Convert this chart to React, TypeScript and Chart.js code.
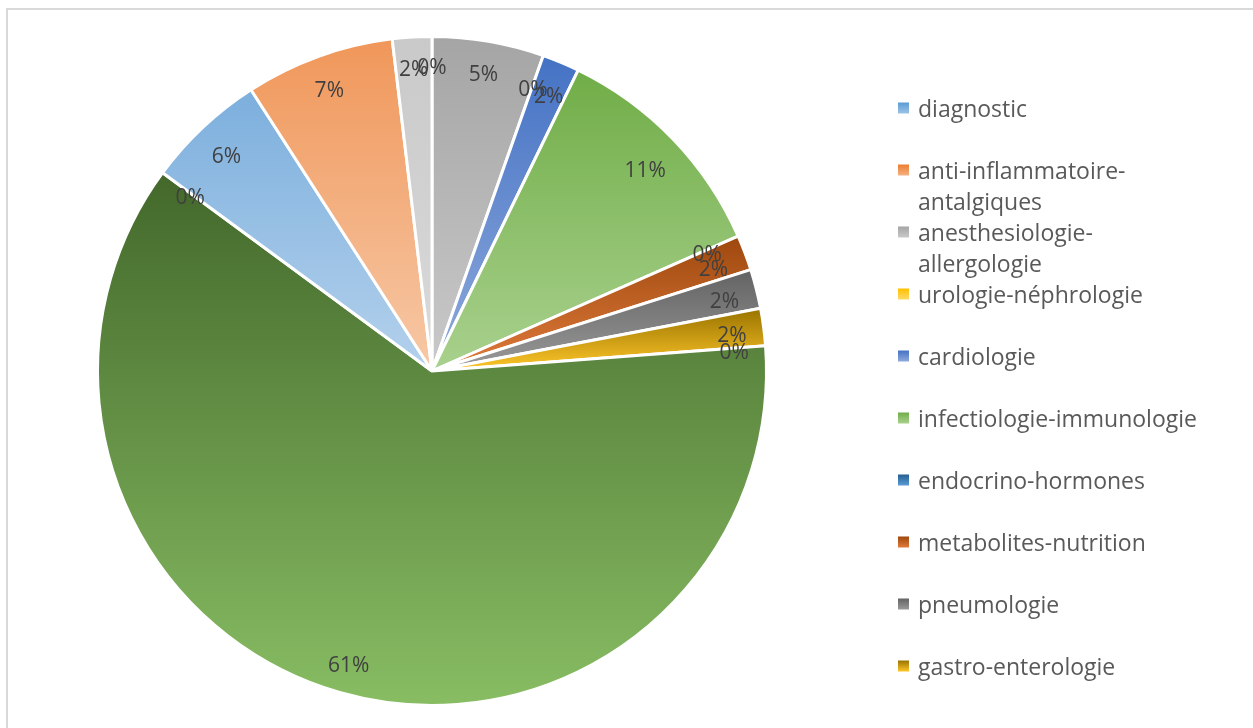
import React, { useEffect, useRef } from "react";
import { Chart, registerables } from "chart.js";

Chart.register(...registerables);

// Categories in drawing order (clockwise from 12 o'clock)
const categories = [
  "diagnostic",
  "anti-inflammatoire-antalgiques",
  "anesthesiologie-allergologie",
  "urologie-néphrologie",
  "cardiologie",
  "infectiologie-immunologie",
  "endocrino-hormones",
  "metabolites-nutrition",
  "pneumologie",
  "gastro-enterologie",
  "dermatologie",
  "neurologie-psychiatrie",
  "hématologie",
  "oncologie",
  "rhumatologie",
  "ophtalmologie",
];

// Share of each category (percent)
const values = [0, 0, 5.4, 0, 1.8, 11.2, 0, 1.7, 1.9, 1.8, 0, 61.3, 0, 5.8, 7.2, 1.9];

// Gradient colours: top -> bottom of each slice
const topColors = [
  "#5b9bd5", "#ed7d31", "#a5a5a5", "#ffc000", "#4472c4", "#70ad47", "#255e91", "#9e480e",
  "#636363", "#997300", "#264478", "#43682b", "#7cafdd", "#7cafdd", "#f0975a", "#c9c9c9",
];
const bottomColors = [
  "#9dc3e6", "#f4b183", "#c9c9c9", "#ffd966", "#8faadc", "#a9d18e", "#5b9bd5", "#e07b3c",
  "#9a9a9a", "#ffc72a", "#4472c4", "#88bd63", "#b4d1ec", "#b4d1ec", "#f7c8a6", "#dadada",
];

// Only the first entries fit in the legend box
const legendCount = 10;

const FONT = '"Open Sans", "Noto Sans", sans-serif';
const RADIUS = 334.5;

function sliceGradient(chart: any, i: number) {
  const ca = chart.chartArea;
  if (!ca) return topColors[i];
  const cx = (ca.left + ca.right) / 2;
  const cy = (ca.top + ca.bottom) / 2;
  const total = values.reduce((a, b) => a + b, 0);
  let cum = 0;
  for (let j = 0; j < i; j++) cum += values[j];
  const a0 = -Math.PI / 2 + (2 * Math.PI * cum) / total;
  const a1 = a0 + (2 * Math.PI * values[i]) / total;
  const ys = [cy, cy + RADIUS * Math.sin(a0), cy + RADIUS * Math.sin(a1)];
  if (a0 < Math.PI / 2 && a1 > Math.PI / 2) ys.push(cy + RADIUS);
  if (a1 >= (3 * Math.PI) / 2 - 1e-9 || a0 <= -Math.PI / 2 + 1e-9) ys.push(cy - RADIUS);
  const yTop = Math.min(...ys);
  let yBot = Math.max(...ys);
  if (yBot - yTop < 1) yBot = yTop + 1;
  const g = chart.ctx.createLinearGradient(0, yTop, 0, yBot);
  g.addColorStop(0, topColors[i]);
  g.addColorStop(1, bottomColors[i]);
  return g;
}

const labelPlugin = {
  id: "sliceLabels",
  afterDatasetsDraw(chart: any) {
    const ctx = chart.ctx;
    const meta = chart.getDatasetMeta(0);
    const total = values.reduce((a, b) => a + b, 0);
    ctx.save();
    ctx.font = `21px ${FONT}`;
    ctx.fillStyle = "#404040";
    ctx.textAlign = "center";
    ctx.textBaseline = "middle";
    let lastKey = "";
    meta.data.forEach((el: any, i: number) => {
      const { x, y, startAngle, endAngle, outerRadius } = el.getProps(
        ["x", "y", "startAngle", "endAngle", "outerRadius"],
        true
      );
      const pct = Math.round((values[i] / total) * 100);
      const text = `${pct}%`;
      const mid = (startAngle + endAngle) / 2;
      const key = `${text}@${mid.toFixed(4)}`;
      if (key === lastKey) return;
      lastKey = key;
      // "inside end" placement: keep the text box inside the rim
      const w = ctx.measureText(text).width;
      const h = 22;
      const half = (w / 2) * Math.abs(Math.cos(mid)) + (h / 2) * Math.abs(Math.sin(mid));
      const r = outerRadius - 1.5 - 14.5 - half;
      ctx.fillText(text, x + r * Math.cos(mid), y + r * Math.sin(mid) + 5);
    });
    ctx.restore();
  },
};

function wrapText(ctx: CanvasRenderingContext2D, text: string, maxWidth: number): string[] {
  if (ctx.measureText(text).width <= maxWidth) return [text];
  const parts = text.split("-");
  const lines: string[] = [];
  let cur = "";
  parts.forEach((p, k) => {
    const piece = p + (k < parts.length - 1 ? "-" : "");
    if (cur && ctx.measureText(cur + piece).width > maxWidth) {
      lines.push(cur);
      cur = piece;
    } else {
      cur += piece;
    }
  });
  if (cur) lines.push(cur);
  return lines;
}

const legendPlugin = {
  id: "sideLegend",
  afterDraw(chart: any) {
    const ctx = chart.ctx;
    const boxX = 898;
    const textX = 918;
    const firstY = 108;
    const slot = 62;
    const lineH = 31;
    ctx.save();
    ctx.font = `23px ${FONT}`;
    ctx.textAlign = "left";
    ctx.textBaseline = "middle";
    for (let i = 0; i < legendCount; i++) {
      const cy = firstY + slot * i;
      const g = ctx.createLinearGradient(0, cy - 5.5, 0, cy + 5.5);
      g.addColorStop(0, topColors[i]);
      g.addColorStop(1, bottomColors[i]);
      ctx.fillStyle = g;
      ctx.fillRect(boxX, cy - 5.5, 11, 11);
      ctx.fillStyle = "#595959";
      const lines = wrapText(ctx, categories[i], 290);
      lines.forEach((ln, k) => ctx.fillText(ln, textX, cy + 2 + k * lineH));
    }
    ctx.restore();
  },
};

export default function App() {
  const canvasRef = useRef<HTMLCanvasElement | null>(null);

  useEffect(() => {
    let chart: Chart | null = null;
    let cancelled = false;
    const make = () => {
      if (cancelled || !canvasRef.current) return;
      chart = new Chart(canvasRef.current, {
        type: "pie",
        data: {
          labels: categories,
          datasets: [
            {
              data: values,
              backgroundColor: (c: any) => sliceGradient(c.chart, c.dataIndex),
              borderColor: "#ffffff",
              borderWidth: 3,
              radius: RADIUS,
              hoverOffset: 0,
            } as any,
          ],
        },
        options: {
          responsive: false,
          animation: false,
          devicePixelRatio: 1,
          layout: { padding: { left: 1, right: 390, top: 14, bottom: 0 } },
          plugins: {
            legend: { display: false },
            tooltip: { enabled: false },
          },
          events: [],
        },
        plugins: [labelPlugin, legendPlugin],
      });
    };
    const fontsApi = (document as any).fonts;
    if (fontsApi && fontsApi.load) {
      Promise.all([fontsApi.load(`23px "Open Sans"`), fontsApi.load(`21px "Open Sans"`)])
        .catch(() => null)
        .then(make);
    } else {
      make();
    }
    return () => {
      cancelled = true;
      if (chart) chart.destroy();
    };
  }, []);

  return (
    <div
      style={{
        position: "fixed",
        left: 0,
        top: 0,
        width: 1253,
        height: 728,
        overflow: "hidden",
        background: "#ffffff",
      }}
    >
      <div
        style={{
          position: "absolute",
          left: 6,
          top: 8,
          width: 1300,
          height: 800,
          borderLeft: "2px solid #d9d9d9",
          borderTop: "2px solid #d9d9d9",
        }}
      />
      <canvas
        ref={canvasRef}
        width={1253}
        height={728}
        style={{ position: "absolute", left: 0, top: 0, width: 1253, height: 728 }}
      />
    </div>
  );
}
